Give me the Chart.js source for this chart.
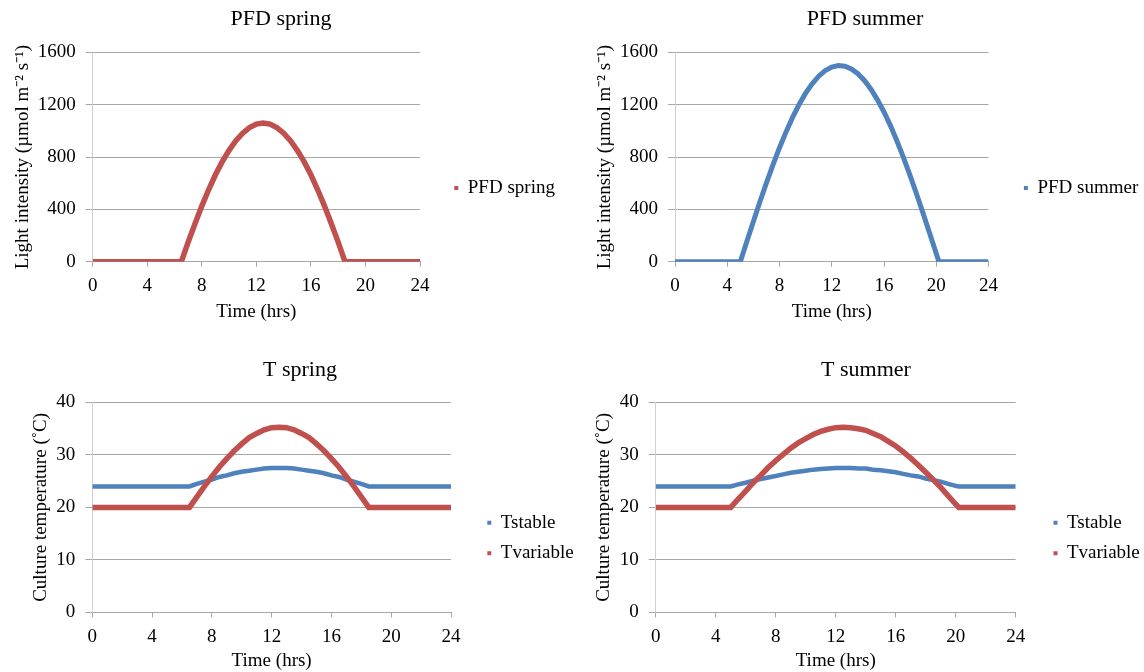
<!DOCTYPE html>
<html>
<head>
<meta charset="utf-8">
<title>PFD and culture temperature</title>
<script src="https://cdn.jsdelivr.net/npm/chart.js@4.4.1/dist/chart.umd.min.js"></script>
<style>
  html, body { margin: 0; padding: 0; background: #fff; }
  #wrap { position: relative; width: 1144px; height: 672px; overflow: hidden; }
  canvas { position: absolute; }
</style>
</head>
<body>
<div id="wrap">
  <canvas id="pfdSpringChart" width="600" height="336" style="left:0;top:0"></canvas>
  <canvas id="pfdSummerChart" width="572" height="336" style="left:572px;top:0"></canvas>
  <canvas id="tSpringChart" width="600" height="336" style="left:0;top:336px"></canvas>
  <canvas id="tSummerChart" width="572" height="336" style="left:572px;top:336px"></canvas>
</div>
<script>
// time of day (hrs)
const springHours = [0, 1, 2, 3, 4, 5, 6, 6.5, 7, 7.5, 8, 8.5, 9, 9.5, 10, 10.5, 11, 11.5, 12, 12.5,
  13, 13.5, 14, 14.5, 15, 15.5, 16, 16.5, 17, 17.5, 18, 18.5, 19, 20, 21, 22, 23, 24];
const summerHours = [0, 1, 2, 3, 4, 5, 5.5, 6, 6.5, 7, 7.5, 8, 8.5, 9, 9.5, 10, 10.5, 11, 11.5, 12, 12.5,
  13, 13.5, 14, 14.5, 15, 15.5, 16, 16.5, 17, 17.5, 18, 18.5, 19, 19.5, 20, 20.2, 21, 22, 23, 24];

// light intensity (umol m-2 s-1)
const pfdSpring = [0, 0, 0, 0, 0, 0, 0, 0, 150, 290, 425, 550, 665, 765, 852, 925, 983, 1025, 1052, 1060,
  1052, 1025, 983, 925, 852, 765, 665, 550, 425, 290, 150, 0, 0, 0, 0, 0, 0, 0];
const pfdSummer = [0, 0, 0, 0, 0, 0, 155, 307, 458, 603, 741, 872, 993, 1104, 1202, 1289, 1361, 1419, 1461, 1488, 1500,
  1495, 1474, 1438, 1386, 1319, 1238, 1145, 1039, 921, 794, 659, 516, 368, 216, 62, 0, 0, 0, 0, 0];

// culture temperature (C)
const tStableSpring = [24, 24, 24, 24, 24, 24, 24, 24, 24.5, 24.9, 25.3, 25.8, 26.1, 26.5, 26.8, 27.0, 27.2, 27.4, 27.5, 27.5,
  27.5, 27.4, 27.2, 27.0, 26.8, 26.5, 26.1, 25.8, 25.3, 24.9, 24.5, 24, 24, 24, 24, 24, 24, 24];
const tVariableSpring = [20, 20, 20, 20, 20, 20, 20, 20, 22.0, 24.0, 25.9, 27.7, 29.3, 30.8, 32.1, 33.3, 34.1, 34.8, 35.2, 35.3,
  35.2, 34.8, 34.1, 33.3, 32.1, 30.8, 29.3, 27.7, 25.9, 24.0, 22.0, 20, 20, 20, 20, 20, 20, 20];
const tStableSummer = [24, 24, 24, 24, 24, 24, 24.4, 24.7, 25.1, 25.4, 25.7, 26.0, 26.3, 26.6, 26.8, 27.0, 27.2, 27.3, 27.4, 27.5, 27.5,
  27.5, 27.4, 27.4, 27.2, 27.1, 26.9, 26.7, 26.4, 26.1, 25.9, 25.5, 25.2, 24.9, 24.5, 24.1, 24, 24, 24, 24, 24];
const tVariableSummer = [20, 20, 20, 20, 20, 20, 21.6, 23.1, 24.7, 26.1, 27.6, 28.9, 30.1, 31.3, 32.3, 33.1, 33.9, 34.5, 34.9, 35.2, 35.3,
  35.2, 35.0, 34.7, 34.1, 33.5, 32.6, 31.7, 30.6, 29.4, 28.1, 26.7, 25.3, 23.8, 22.2, 20.6, 20, 20, 20, 20, 20];

const BLUE = '#4F81BD';
const RED = '#C0504D';
const GRID = '#A6A6A6';
const AXIS = '#D0D0D0';

Chart.defaults.font.family = "'Liberation Serif', 'Times New Roman', serif";
Chart.defaults.color = '#000';

// moves the title and legend to where Excel put them
const placer = {
  id: 'placer',
  afterLayout(chart, args, o) {
    const t = chart.titleBlock;
    const half = (t.right - t.left) / 2;
    t.left = o.titleX - half;
    t.right = o.titleX + half;
    const lg = chart.legend;
    lg.left = o.legendLeft;
    lg.right = chart.width;
    lg.top = o.legendTop;
    lg.bottom = chart.height;
    lg.width = lg.right - lg.left;
    lg.height = lg.bottom - lg.top;
  }
};

function pairs(xs, ys) {
  return xs.map(function (x, i) { return { x: x, y: ys[i] }; });
}

function series(label, xs, ys, color, width, order) {
  return {
    label: label,
    data: pairs(xs, ys),
    borderColor: color,
    backgroundColor: color,
    borderWidth: width,
    pointRadius: 0,
    pointHoverRadius: 0,
    pointStyle: 'rect',
    pointBackgroundColor: color,
    pointBorderWidth: 0,
    tension: 0,
    order: order
  };
}

function makeChart(id, c) {
  const W = c.W, H = 336;
  const legPad = 11.6;
  const titleTop = c.titleY - 13.2;
  new Chart(document.getElementById(id), {
    type: 'line',
    data: { datasets: c.datasets },
    plugins: [placer],
    options: {
      responsive: false,
      animation: false,
      events: [],
      layout: { padding: { left: 0, top: 0, bottom: 0, right: W - c.R } },
      scales: {
        x: {
          type: 'linear', min: 0, max: 24,
          ticks: { stepSize: 4, padding: 8, maxRotation: 0, font: { size: 19 } },
          grid: { drawOnChartArea: false, tickLength: 5, color: GRID },
          border: { color: GRID, width: 1 },
          title: { display: true, text: 'Time (hrs)', font: { size: 19 }, padding: { top: 0, bottom: c.xTitlePad } },
          afterFit: function (s) { s.height = H - c.B; }
        },
        y: {
          min: 0, max: c.yMax,
          ticks: { stepSize: c.yStep, padding: 10, font: { size: 19 }, callback: function (v) { return String(v); } },
          grid: { color: GRID, tickLength: 7 },
          border: { color: AXIS, width: 1 },
          title: { display: true, text: c.yTitle, font: { size: 19 }, padding: { top: c.yTitlePad, bottom: 0 } },
          afterFit: function (s) { s.width = c.L; }
        }
      },
      plugins: {
        title: {
          display: true, text: c.title, color: '#000',
          font: { size: 22, weight: 'normal' },
          padding: { top: titleTop, bottom: c.T - titleTop - 26.4 }
        },
        legend: {
          position: 'chartArea', align: 'start',
          labels: {
            usePointStyle: true, boxWidth: 4, boxHeight: 4, padding: legPad,
            font: { size: 19 }, color: '#000',
            sort: function (a, b) { return a.datasetIndex - b.datasetIndex; }
          }
        },
        tooltip: { enabled: false },
        placer: {
          titleX: c.titleX,
          legendLeft: c.legendX - legPad - 4 - 9.5,
          legendTop: c.legendY - legPad - 9.5
        }
      }
    }
  });
}

const pfdTitle = 'Light intensity (\u00b5mol m\u207b\u00b2 s\u207b\u00b9)';
const tTitle = 'Culture temperature (\u02daC)';

makeChart('pfdSpringChart', {
  title: 'PFD spring', yTitle: pfdTitle, yMax: 1600, yStep: 400, W: 600,
  L: 92.7, R: 420, T: 52.5, B: 261.7,
  titleX: 281, titleY: 18.8, yTitlePad: 11.6, xTitlePad: 12.9,
  legendX: 467.8, legendY: 188,
  datasets: [series('PFD spring', springHours, pfdSpring, RED, 5.5, 0)]
});

makeChart('pfdSummerChart', {
  title: 'PFD summer', yTitle: pfdTitle, yMax: 1600, yStep: 400, W: 572,
  L: 103, R: 416.5, T: 52.5, B: 261.7,
  titleX: 293, titleY: 18.8, yTitlePad: 21.2, xTitlePad: 12.9,
  legendX: 465.4, legendY: 188,
  datasets: [series('PFD summer', summerHours, pfdSummer, BLUE, 5, 0)]
});

makeChart('tSpringChart', {
  title: 'T spring', yTitle: tTitle, yMax: 40, yStep: 10, W: 600,
  L: 92.3, R: 451, T: 66.5, B: 276.3,
  titleX: 300, titleY: 34, yTitlePad: 30, xTitlePad: 0,
  legendX: 500.8, legendY: 186.7,
  datasets: [
    series('Tstable', springHours, tStableSpring, BLUE, 4.5, 1),
    series('Tvariable', springHours, tVariableSpring, RED, 5.5, 0)
  ]
});

makeChart('tSummerChart', {
  title: 'T summer', yTitle: tTitle, yMax: 40, yStep: 10, W: 572,
  L: 83.7, R: 443.7, T: 66.5, B: 276.3,
  titleX: 294, titleY: 34, yTitlePad: 21.1, xTitlePad: 0,
  legendX: 495, legendY: 186.7,
  datasets: [
    series('Tstable', summerHours, tStableSummer, BLUE, 4.5, 1),
    series('Tvariable', summerHours, tVariableSummer, RED, 5.5, 0)
  ]
});
</script>
</body>
</html>
